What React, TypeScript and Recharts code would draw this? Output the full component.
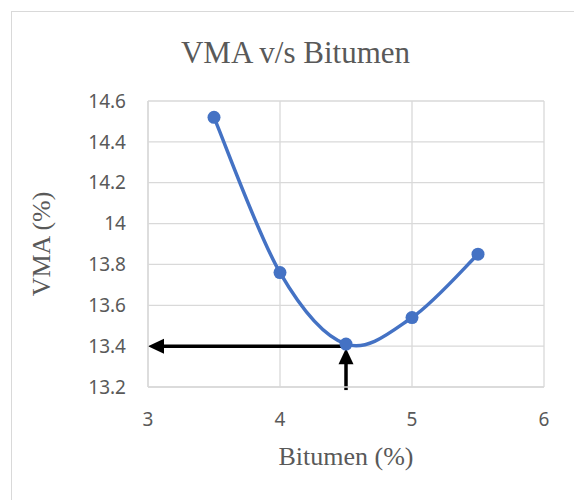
import React from "react";
import {
  LineChart,
  Line,
  XAxis,
  YAxis,
  CartesianGrid,
  ReferenceLine,
  Label,
} from "recharts";

// Marshall test results
const bitumenContent = [3.5, 4, 4.5, 5, 5.5];
const vmaValues = [14.52, 13.76, 13.41, 13.54, 13.85];

const xTicks = [3, 4, 5, 6];
const yTicks = [13.2, 13.4, 13.6, 13.8, 14, 14.2, 14.4, 14.6];

// optimum bitumen read-off
const optimumBitumen = 4.5;
const optimumVma = 13.4;

const chartData = bitumenContent.map((bitumen, i) => ({
  bitumen,
  vma: vmaValues[i],
}));

const SERIES_COLOR = "#4472C4";
const GRID_COLOR = "#D9D9D9";
const TEXT_COLOR = "#595959";
const SERIF = '"Times New Roman", "Liberation Serif", serif';
const SANS = '"Noto Sans", "Open Sans", sans-serif';

// Bezier smoothing through every point (Catmull-Rom style, like a spreadsheet "smoothed line")
function smoothCurve(context: any) {
  let pts: [number, number][] = [];
  return {
    areaStart() {},
    areaEnd() {},
    lineStart() {
      pts = [];
    },
    point(x: number, y: number) {
      pts.push([+x, +y]);
    },
    lineEnd() {
      if (!pts.length) return;
      context.moveTo(pts[0][0], pts[0][1]);
      for (let i = 0; i < pts.length - 1; i++) {
        const p0 = pts[i - 1] || pts[i];
        const p1 = pts[i];
        const p2 = pts[i + 1];
        const p3 = pts[i + 2] || p2;
        context.bezierCurveTo(
          p1[0] + (p2[0] - p0[0]) / 6,
          p1[1] + (p2[1] - p0[1]) / 6,
          p2[0] - (p3[0] - p1[0]) / 6,
          p2[1] - (p3[1] - p1[1]) / 6,
          p2[0],
          p2[1]
        );
      }
    },
  };
}

// black arrow: shaft from (x1,y1), head pointing at (x2,y2)
function ArrowShape(props: any) {
  const { x1, y1, x2, y2 } = props;
  if ([x1, y1, x2, y2].some((v) => typeof v !== "number")) return null;
  const dx = x2 - x1;
  const dy = y2 - y1;
  const len = Math.hypot(dx, dy) || 1;
  const ux = dx / len;
  const uy = dy / len;
  const headLen = 16;
  const headHalf = 7.5;
  const bx = x2 - ux * headLen;
  const by = y2 - uy * headLen;
  const head = `${x2},${y2} ${bx - uy * headHalf},${by + ux * headHalf} ${
    bx + uy * headHalf
  },${by - ux * headHalf}`;
  return (
    <g>
      <line x1={x1} y1={y1} x2={bx + ux} y2={by + uy} stroke="#000" strokeWidth={3.5} />
      <polygon points={head} fill="#000" />
    </g>
  );
}

export default function App() {
  return (
    <div
      style={{
        position: "absolute",
        left: 0,
        top: 0,
        width: 574,
        height: 500,
        overflow: "hidden",
        background: "#fff",
      }}
    >
      <div
        style={{
          position: "absolute",
          left: 11,
          top: 11,
          width: 620,
          height: 600,
          border: `1px solid ${GRID_COLOR}`,
        }}
      />
      <div
        style={{
          position: "absolute",
          left: 0,
          top: 37,
          width: 591,
          textAlign: "center",
          fontFamily: SERIF,
          fontSize: 31,
          lineHeight: 1,
          color: TEXT_COLOR,
        }}
      >
        VMA v/s Bitumen
      </div>
      <div style={{ position: "absolute", left: 0, top: 0 }}>
        <LineChart
          width={574}
          height={500}
          data={chartData}
          margin={{ top: 101, right: 30, bottom: 53, left: 0 }}
        >
          <CartesianGrid stroke={GRID_COLOR} strokeWidth={1.3} />
          <XAxis
            type="number"
            dataKey="bitumen"
            domain={[3, 6]}
            ticks={xTicks}
            height={60}
            tickLine={false}
            tickMargin={20}
            axisLine={{ stroke: GRID_COLOR, strokeWidth: 1.3 }}
            tick={{ fill: TEXT_COLOR, fontSize: 19, fontFamily: SANS }}
          >
            <Label
              value="Bitumen (%)"
              position="bottom"
              offset={0}
              fill={TEXT_COLOR}
              fontSize={26}
              fontFamily={SERIF}
            />
          </XAxis>
          <YAxis
            type="number"
            domain={[13.2, 14.6]}
            ticks={yTicks}
            width={148}
            tickLine={false}
            tickMargin={16}
            axisLine={{ stroke: GRID_COLOR, strokeWidth: 1.3 }}
            tick={{ fill: TEXT_COLOR, fontSize: 19, fontFamily: SANS }}
            allowDataOverflow
          >
            <Label
              value="VMA (%)"
              angle={-90}
              position="insideLeft"
              offset={41}
              fill={TEXT_COLOR}
              fontSize={26}
              fontFamily={SERIF}
              style={{ textAnchor: "middle" }}
            />
          </YAxis>
          <Line
            dataKey="vma"
            type={smoothCurve as any}
            stroke={SERIES_COLOR}
            strokeWidth={3.5}
            dot={{ r: 6.5, fill: SERIES_COLOR, stroke: SERIES_COLOR, strokeWidth: 0 }}
            isAnimationActive={false}
          />
          <ReferenceLine
            segment={[
              { x: optimumBitumen, y: optimumVma },
              { x: xTicks[0], y: optimumVma },
            ]}
            ifOverflow="visible"
            shape={ArrowShape}
          />
          <ReferenceLine
            segment={[
              { x: optimumBitumen, y: yTicks[0] - 0.015 },
              { x: optimumBitumen, y: optimumVma - 0.01 },
            ]}
            ifOverflow="visible"
            shape={ArrowShape}
          />
        </LineChart>
      </div>
    </div>
  );
}
